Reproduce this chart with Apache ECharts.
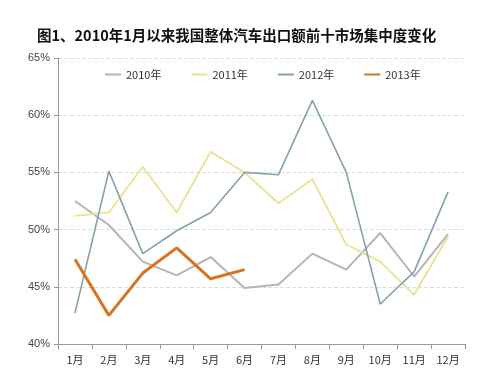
<!DOCTYPE html>
<html><head><meta charset="utf-8">
<script src="https://cdn.jsdelivr.net/npm/echarts@6/dist/echarts.min.js"></script>
<style>html,body{margin:0;padding:0;background:#fff}#c{width:482px;height:375px}</style>
</head><body><div id="c"></div>
<script>
const categories = ['1月','2月','3月','4月','5月','6月','7月','8月','9月','10月','11月','12月'];
const seriesNames = ['2010年','2011年','2012年','2013年'];
const v2010 = [52.5,50.4,47.2,46.0,47.6,44.9,45.2,47.9,46.5,49.7,45.9,49.6];
const v2011 = [51.2,51.5,55.5,51.5,56.8,55.0,52.3,54.4,48.7,47.2,44.3,49.4];
const v2012 = [42.7,55.1,47.9,49.9,51.5,55.0,54.8,61.3,55.0,43.5,46.3,53.3];
const v2013 = [47.4,42.5,46.2,48.4,45.7,46.5];
const yTicks = [40,45,50,55,60,65];

const colors = ['#b5b5b5','#ece28e','#82a2ad','#d8731f'];
const widths = [2,1.8,1.6,3];
const datas = [v2010,v2011,v2012,v2013];
const chart = echarts.init(document.getElementById('c'));
chart.setOption({
  backgroundColor:'#fff',
  animation:false,
  title:{text:'图1、2010年1月以来我国整体汽车出口额前十市场集中度变化',left:32,top:23,
    textStyle:{fontSize:14.5,fontWeight:'bold',color:'#111',fontFamily:'Noto Sans CJK SC'}},
  legend:{top:64,left:100,itemGap:30,itemWidth:16,itemHeight:2,icon:'rect',
    textStyle:{fontSize:11,color:'#333',fontFamily:'Noto Sans CJK SC'},
    data:seriesNames},
  grid:{left:58,right:17,top:58,bottom:31},
  xAxis:{type:'category',data:categories,boundaryGap:true,
    axisLine:{lineStyle:{color:'#999',width:1}},
    axisTick:{show:true,lineStyle:{color:'#999'}},
    axisLabel:{fontSize:11,color:'#333',margin:10,fontFamily:'Noto Sans CJK SC'}},
  yAxis:{type:'value',min:yTicks[0],max:yTicks[yTicks.length-1],interval:5,
    axisLine:{show:true,lineStyle:{color:'#999'}},
    axisTick:{show:true,inside:false,length:4,lineStyle:{color:'#999'}},
    axisLabel:{fontSize:11,color:'#444',formatter:v=>v+'%'},
    splitLine:{lineStyle:{color:'#ddd',type:'dashed'}}},
  series: seriesNames.map((n,i)=>({name:n,type:'line',data:datas[i],symbol:'none',
    itemStyle:{color:colors[i]},lineStyle:{color:colors[i],width:widths[i]},z:i===3?5:2}))
});
</script></body></html>
